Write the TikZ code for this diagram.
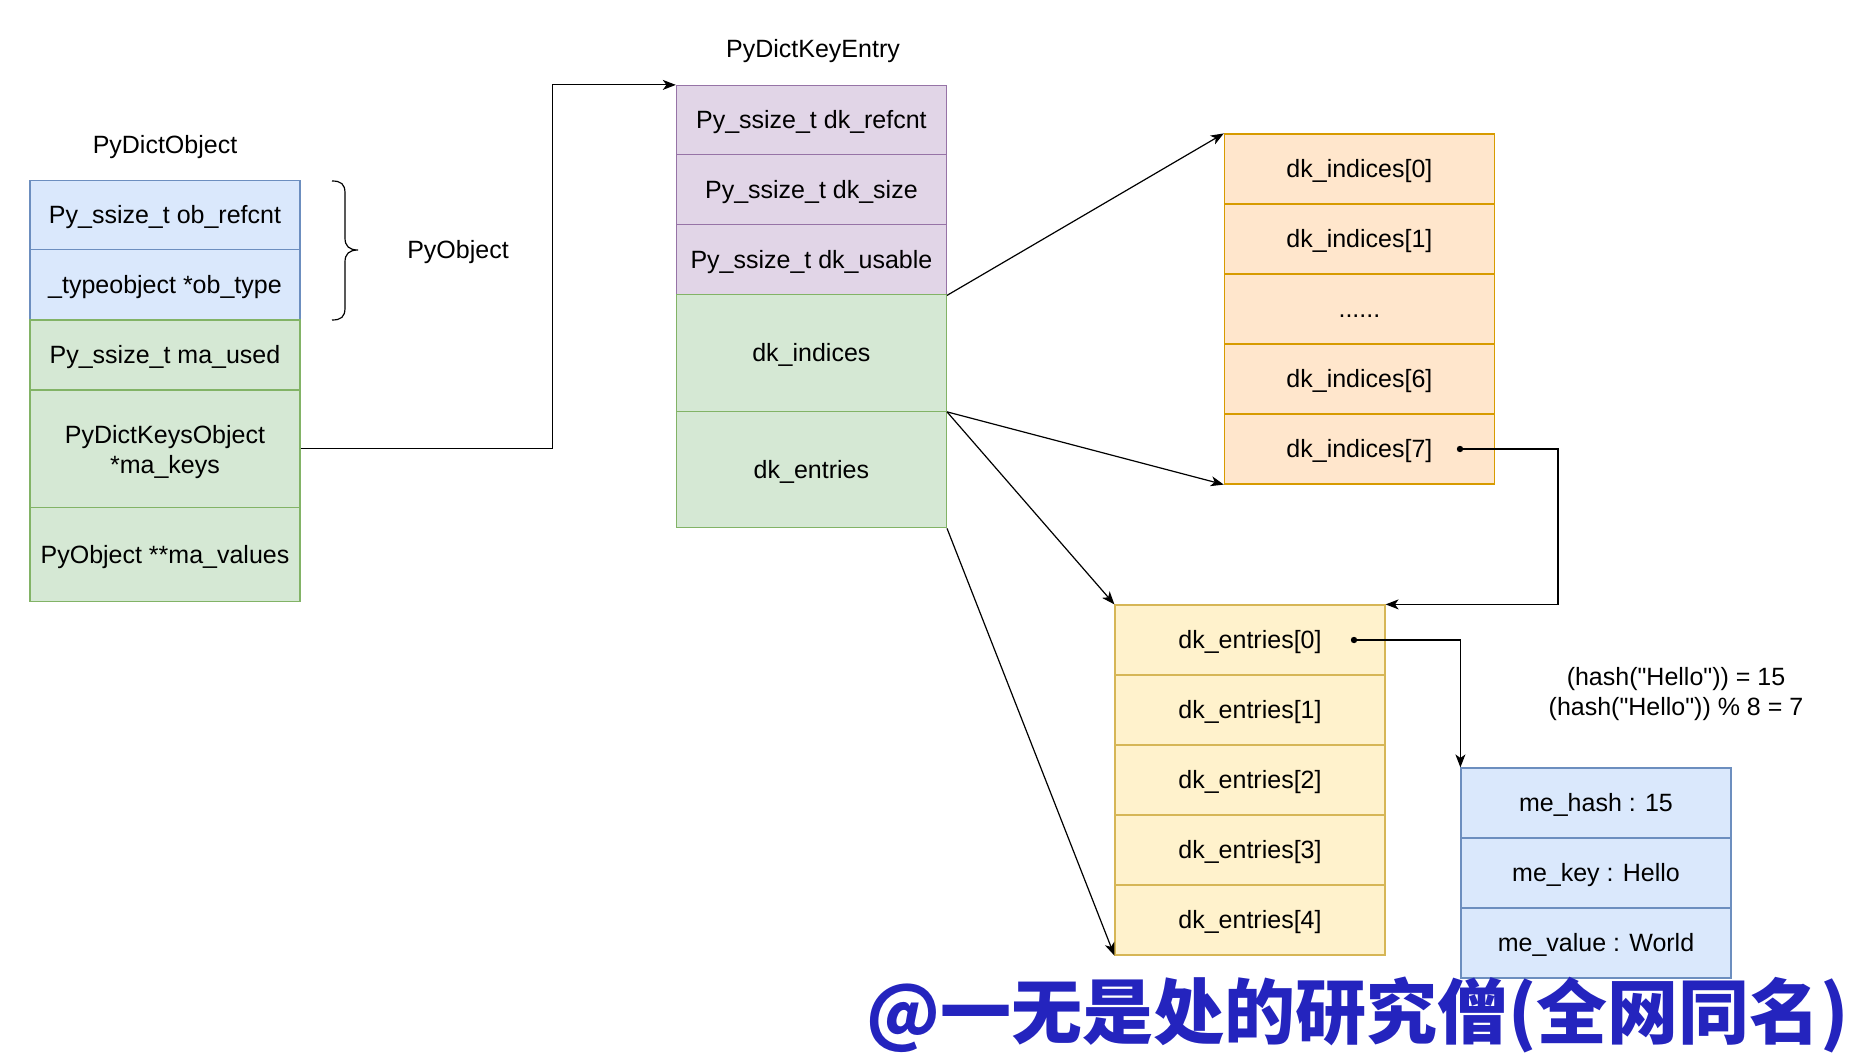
\documentclass[tikz,border=0pt]{standalone}
\usepackage{fontspec}
\setmainfont{Liberation Sans}
\newfontfamily\plainq{Liberation Sans}[Ligatures=TeXOff]
\newfontfamily\cjk{Noto Sans CJK SC}
\usetikzlibrary{arrows.meta}
\definecolor{bfill}{HTML}{DAE8FC}\definecolor{bdraw}{HTML}{6C8EBF}
\definecolor{gfill}{HTML}{D5E8D4}\definecolor{gdraw}{HTML}{82B366}
\definecolor{pfill}{HTML}{E1D5E7}\definecolor{pdraw}{HTML}{9673A6}
\definecolor{ofill}{HTML}{FFE6CC}\definecolor{odraw}{HTML}{D79B00}
\definecolor{yfill}{HTML}{FFF2CC}\definecolor{ydraw}{HTML}{D6B656}
\definecolor{wmark}{HTML}{2424BE}
\begin{document}
\begin{tikzpicture}[x=0.5pt,y=-0.5pt,
  font=\fontsize{12.5}{15}\selectfont,
  cell/.style={rectangle, minimum width=135pt, align=center, inner sep=0pt, line width=0.6pt,
    text height=9.5pt, text depth=1pt},
  twoline/.style={text height=26pt, text depth=1.5pt},
  bluec/.style={cell, fill=bfill, draw=bdraw},
  greenc/.style={cell, fill=gfill, draw=gdraw},
  purplec/.style={cell, fill=pfill, draw=pdraw},
  orangec/.style={cell, fill=ofill, draw=odraw},
  yellowc/.style={cell, fill=yfill, draw=ydraw},
  lbl/.style={align=center, inner sep=0pt},
  arr/.style={line width=0.6pt, -{Stealth[length=6.5pt,width=5pt,inset=1.8pt]}},
  dotc/.style={circle, fill=black, inner sep=0pt, minimum size=3.2pt}]
\useasboundingbox (0,0) rectangle (1864,1054);

% PyDictObject
\node[lbl] (t1) at (165,147) {PyDictObject};
\node[bluec, minimum height=34.5pt] (r1) at (165,215.2) {Py\_ssize\_t ob\_refcnt};
\node[bluec, minimum height=35pt] (r2) at (165,284.7) {\_typeobject *ob\_type};
\node[greenc, minimum height=35pt] (r3) at (165,354.9) {Py\_ssize\_t ma\_used};
\node[greenc, twoline, minimum height=58.8pt] (r4) at (165,448.8) {PyDictKeysObject\\*ma\_keys};
\node[greenc, minimum height=47pt] (r5) at (165,554.6) {PyObject **ma\_values};

% brace
\draw[line width=0.6pt] (332,181) .. controls (341,181) and (345,184) .. (345,193) -- (345,238)
  .. controls (345,246) and (349,250) .. (358,250)
  .. controls (349,250) and (345,254) .. (345,262) -- (345,308)
  .. controls (345,317) and (341,320) .. (332,320);
\node[lbl] (po) at (458,252) {PyObject};

% PyDictKeyEntry
\node[lbl] (t2) at (813,51) {PyDictKeyEntry};
\node[purplec, minimum height=34.5pt] (m1) at (811.4,120) {Py\_ssize\_t dk\_refcnt};
\node[purplec, minimum height=35pt] (m2) at (811.4,189.6) {Py\_ssize\_t dk\_size};
\node[purplec, minimum height=35pt] (m3) at (811.4,259.8) {Py\_ssize\_t dk\_usable};
\node[greenc, minimum height=58.25pt] (m4) at (811.4,353) {dk\_indices};
\node[greenc, minimum height=58.25pt] (m5) at (811.4,469.5) {dk\_entries};

% indices
\node[orangec, minimum height=35pt] (i0) at (1359.4,169) {dk\_indices[0]};
\node[orangec, minimum height=35pt] (i1) at (1359.4,239) {dk\_indices[1]};
\node[orangec, minimum height=35pt] (i2) at (1359.4,309) {......};
\node[orangec, minimum height=35pt] (i6) at (1359.4,379) {dk\_indices[6]};
\node[orangec, minimum height=35pt] (i7) at (1359.4,449) {dk\_indices[7]};

% entries
\node[yellowc, minimum height=35pt] (e0) at (1250,640) {dk\_entries[0]};
\node[yellowc, minimum height=35pt] (e1) at (1250,710) {dk\_entries[1]};
\node[yellowc, minimum height=35pt] (e2) at (1250,780) {dk\_entries[2]};
\node[yellowc, minimum height=35pt] (e3) at (1250,850) {dk\_entries[3]};
\node[yellowc, minimum height=35pt] (e4) at (1250,920) {dk\_entries[4]};

% entry object
\node[bluec, minimum height=35pt] (h1) at (1596,803) {me\_hash : 15};
\node[bluec, minimum height=35pt] (h2) at (1596,873) {me\_key : Hello};
\node[bluec, minimum height=35pt] (h3) at (1596,943) {me\_value : World};

\node[lbl, font=\plainq\fontsize{12.5}{15}\selectfont] (hash) at (1676,694) {(hash("Hello")) = 15\\(hash("Hello")) \% 8 = 7};

% dots
\node[dotc] (d7) at (1460,449) {};
\node[dotc] (d0) at (1354,640) {};

% connectors
\draw[arr] (r4.east) -- ++(252,0) |- (m1.north west);
\draw[arr] (m3.south east) -- (i0.north west);
\draw[arr] (m4.south east) -- (i7.south west);
\draw[arr] (m4.south east) -- (e0.north west);
\draw[arr] (m5.south east) -- (e4.south west);
\draw[arr] (d7.center) -- ++(98,0) |- (e0.north east);
\draw[arr] (d0.center) -| (h1.north west);

% watermark
\node[lbl, text=wmark, font=\cjk\bfseries\fontsize{35.5}{38}\selectfont] (wm) at (1358,1015) {@一无是处的研究僧(全网同名)};
\end{tikzpicture}
\end{document}
